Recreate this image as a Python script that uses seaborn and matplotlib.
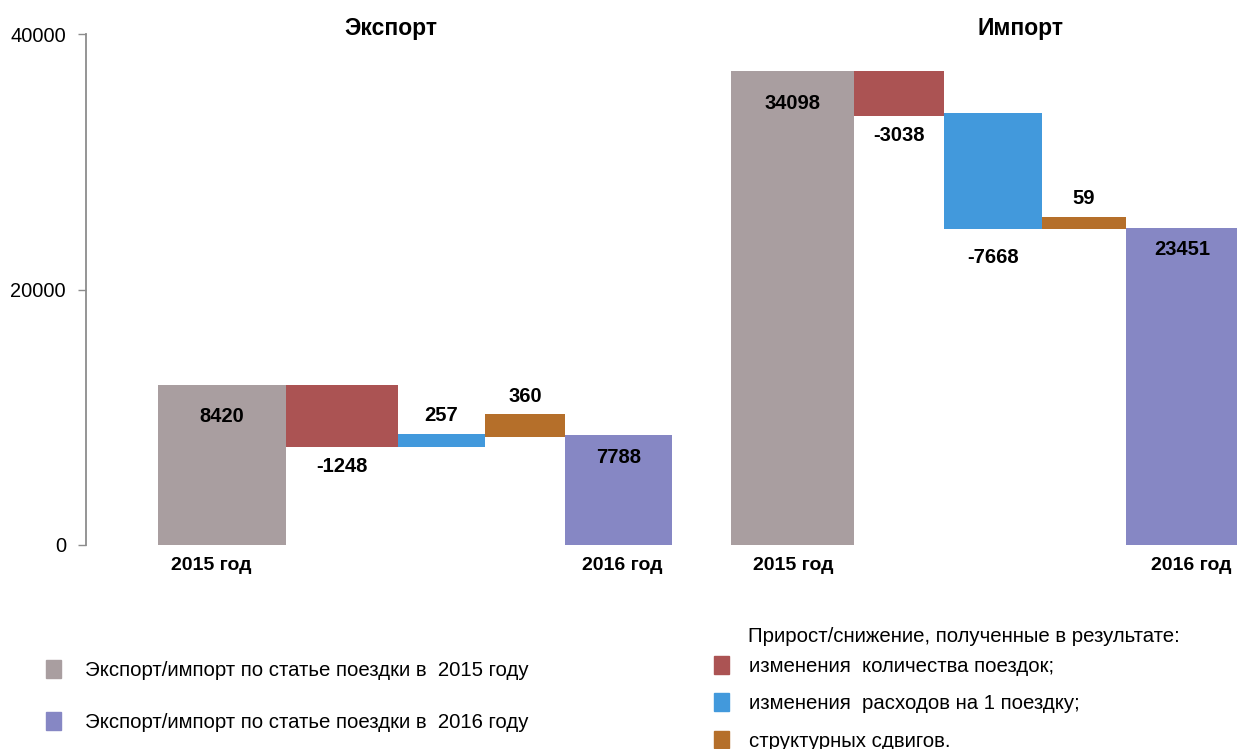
import numpy as np
import matplotlib
matplotlib.use("Agg")
import matplotlib.pyplot as plt
from matplotlib.patches import Patch
import seaborn as sns

# Data
categories = ["2015 год", "кол-во поездок", "расходы на поездку", "структура", "2016 год"]
export_labels = [8420, -1248, 257, 360, 7788]
import_labels = [34098, -3038, -7668, 59, 23451]

# visible bar extents (the picture is not drawn to scale with the labels)
export_low = [0, 7680, 7700, 8460, 0]
export_high = [12530, 12530, 8670, 10240, 8590]
import_low = [0, 33590, 24720, 24720, 0]
import_high = [37140, 37140, 33800, 25680, 24820]

legend_left = ["Экспорт/импорт по статье поездки в  2015 году",
               "Экспорт/импорт по статье поездки в  2016 году"]
legend_title = "Прирост/снижение, полученные в результате:"
legend_right = ["изменения  количества поездок;",
                "изменения  расходов на 1 поездку;",
                "структурных сдвигов."]

# layout
colors = ["#a99ea0", "#ab5353", "#4299dc", "#b56f2a", "#8687c4"]
ex_widths = [1.28, 1.12, 0.87, 0.80, 1.07]
im_widths = [1.23, 0.90, 0.98, 0.84, 1.13]
# label offsets from the bar edge, in pixels
ex_offsets = [-31, -19, 20, 19, -21]
im_offsets = [-32, -18, -27, 20, -20]

sns.set_theme(style="white")
plt.rcParams["font.family"] = ["Liberation Sans", "DejaVu Sans"]
plt.rcParams["text.color"] = "black"
plt.rcParams["xtick.color"] = "black"
plt.rcParams["ytick.labelcolor"] = "black"

W, H = 1237, 749
fig = plt.figure(figsize=(W / 100, H / 100), dpi=100)
bottom = 1 - 545 / H
height = (545 - 34.3) / H
ax1 = fig.add_axes([86 / W, bottom, (690 - 86) / W, height])
ax2 = fig.add_axes([700 / W, bottom, (1237 - 700) / W, height], sharey=ax1)


def waterfall(ax, low, high, labels, widths, start, offsets, tick_shift):
    low = np.array(low)
    high = np.array(high)
    edges = start + np.concatenate([[0], np.cumsum(widths)[:-1]])
    ax.bar(edges, high - low, bottom=low, width=widths, align="edge",
           color=colors, linewidth=0)
    centers = edges + np.array(widths) / 2
    for i, (c, v) in enumerate(zip(centers, labels)):
        y = low[i] if offsets[i] < 0 and 0 < i < len(labels) - 1 else high[i]
        ax.annotate(str(v), (c, y), xytext=(0, offsets[i] * 0.72 - 0.7),
                    textcoords="offset points", ha="center", va="center",
                    fontsize=14.5, fontweight="bold")
    ax.set_xticks([centers[0] + tick_shift[0], centers[-1] + tick_shift[1]])
    ax.set_xticklabels([categories[0], categories[-1]], fontweight="bold", fontsize=14)
    ax.tick_params(axis="x", length=0, pad=9)


waterfall(ax1, export_low, export_high, export_labels, ex_widths, 0.72, ex_offsets, (-0.11, 0.035))
waterfall(ax2, import_low, import_high, import_labels, im_widths, 0.31, im_offsets, (0.01, 0.085))

ax1.set_xlim(0, 6.04)
ax2.set_xlim(0, 5.37)
ax1.set_ylim(0, 40000)
ax1.set_yticks([0, 20000, 40000])
ax1.tick_params(axis="y", length=5.8, width=1, color="#8c8c8c", pad=8.6, labelsize=14.4, left=True)
for s in ["top", "right", "bottom"]:
    ax1.spines[s].set_visible(False)
ax1.spines["left"].set_color("#8c8c8c")
ax1.spines["left"].set_linewidth(1.3)
for s in ax2.spines.values():
    s.set_visible(False)
ax2.tick_params(axis="y", left=False, labelleft=False)

ax1.set_title("Экспорт", fontweight="bold", fontsize=16.5, pad=-0.5, x=0.505)
ax2.set_title("Импорт", fontweight="bold", fontsize=16.5, pad=-0.5, x=0.596)

h_left = [Patch(color=colors[0]), Patch(color=colors[4])]
fig.legend(h_left, legend_left, loc="upper left", bbox_to_anchor=(46 / W, 1 - 660 / H),
           frameon=False, fontsize=14.7, handlelength=0.75, handleheight=0.95,
           handletextpad=1.15, labelspacing=1.6, borderpad=0, borderaxespad=0)

fig.text(748 / W, 1 - 637 / H, legend_title, fontsize=14.7, va="center", ha="left")
h_right = [Patch(color=c) for c in colors[1:4]]
fig.legend(h_right, legend_right, loc="upper left", bbox_to_anchor=(714 / W, 1 - 656 / H),
           frameon=False, fontsize=14.7, handlelength=0.75, handleheight=0.95,
           handletextpad=0.95, labelspacing=0.86, borderpad=0, borderaxespad=0)

fig.savefig("out.png", dpi=100)
